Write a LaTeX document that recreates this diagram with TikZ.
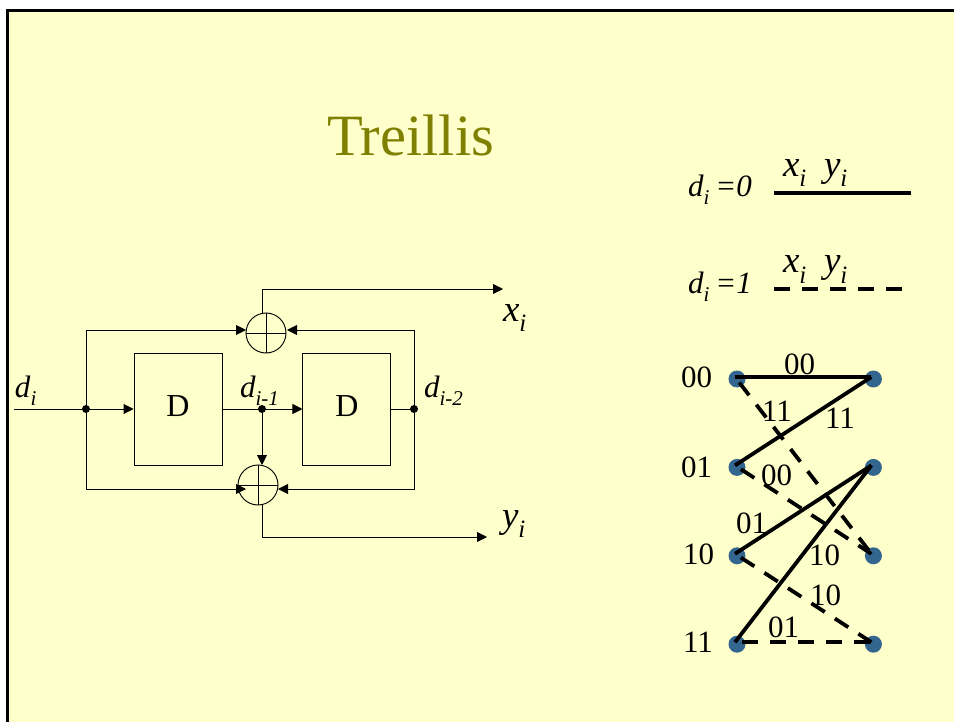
\documentclass[tikz,border=0pt]{standalone}
\usepackage{fontspec}
\setmainfont{Liberation Serif}
\usepackage{xcolor}
\usetikzlibrary{arrows.meta,positioning}
\definecolor{slidebg}{HTML}{FFFFCC}
\definecolor{titleolive}{HTML}{808000}
\definecolor{stateblue}{HTML}{33668F}
\newcommand{\subvar}[2]{\textit{#1}\raisebox{-8pt}{\fontsize{21}{23}\selectfont\textit{#2}}}
\newcommand{\bigsubvar}[2]{\textit{#1}\raisebox{-10pt}{\fontsize{25}{27}\selectfont\textit{#2}}}

\begin{document}
\begin{tikzpicture}[
  x=1pt, y=-1pt,
  delay/.style={draw, line width=0.95pt, minimum width=88pt, minimum height=112pt, inner sep=0pt, font=\fontsize{32}{34}\selectfont},
  adder/.style={draw, circle, line width=0.95pt, minimum size=40pt, inner sep=0pt},
  junction/.style={circle, fill=black, minimum size=8pt, inner sep=0pt},
  arrow/.style={-{Triangle[length=10pt,width=10pt]}, line width=0.95pt},
  wire/.style={line width=0.95pt},
  statedot/.style={circle, fill=stateblue, minimum size=17pt, inner sep=0pt},
  solidedge/.style={line width=3.8pt},
  dashedge/.style={line width=3.8pt, dash pattern=on 16pt off 12pt},
  dashlink/.style={dashedge, dash phase=21pt},
  tap/.style={xshift=-2pt, yshift=2pt},
  txt/.style={anchor=base west, inner sep=0pt, outer sep=0pt, font=\fontsize{31}{33}\selectfont},
  bigtxt/.style={txt, font=\fontsize{37}{39}\selectfont},
  edgetxt/.style={txt, font=\fontsize{31}{33}\selectfont}
]
\useasboundingbox (0,0) rectangle (954,722);
\fill[slidebg] (7.5,10.5) rectangle (954,722);
\coordinate (frameA) at (7.5,722);
\coordinate (frameB) at (7.5,10.5);
\coordinate (frameC) at (954,10.5);
\draw[line width=3pt, black] (frameA) -- (frameB) -- (frameC);
\node[anchor=base west, inner sep=0pt, font=\fontsize{58.5}{60}\selectfont, text=titleolive] (title) at (327,156) {Treillis};

\node[delay] (dleft) at (178,409) {\raisebox{6pt}{D}};
\node[delay, right=80pt of dleft] (dright) {\raisebox{6pt}{D}};
\node[adder] (sumtop) at (266,333) {};
\node[adder] (sumbot) at (258,485) {};
\node[junction] (jin) at (86,409) {};
\node[junction] (jmid) at (262,409) {};
\node[junction] (jout) at (414,409) {};
\coordinate (input) at (14,409);
\coordinate (topin) at (246,330);
\coordinate (topback) at (287,330);
\coordinate (botin) at (246,489);
\coordinate (botback) at (278,489);
\coordinate (midin) at (262,465);
\coordinate (xend) at (503,289);
\coordinate (yend) at (487,537);
\draw[wire] (sumtop.north) -- (sumtop.south);
\draw[wire] (sumtop.west) -- (sumtop.east);
\draw[wire] (sumbot.north) -- (sumbot.south);
\draw[wire] (sumbot.west) -- (sumbot.east);
\draw[wire] (input) -- (jin);
\draw[arrow] (jin) -- (dleft);
\draw[wire] (dleft) -- (jmid);
\draw[arrow] (jmid) -- (dright);
\draw[wire] (dright) -- (jout);
\draw[arrow] (jmid) -- (midin);
\draw[arrow] (jin) |- (topin);
\draw[arrow] (jin) |- (botin);
\draw[arrow] (jout) |- (topback);
\draw[arrow] (jout) |- (botback);
\draw[arrow] (sumtop.north -| jmid) |- (xend);
\draw[arrow] (sumbot.south -| jmid) |- (yend);
\node[txt] (ldi) at (15,397) {\subvar{d}{i}};
\node[txt] (ldone) at (240,397) {\subvar{d}{i-1}};
\node[txt] (ldtwo) at (424,397) {\subvar{d}{i-2}};
\node[bigtxt] (lxi) at (503,322) {\bigsubvar{x}{i}};
\node[bigtxt] (lyi) at (502,527) {\bigsubvar{y}{i}};

\node[txt] (legzero) at (688,197) {\subvar{d}{i}\hspace{6pt}\textit{=0}};
\node[txt] (legone) at (688,294) {\subvar{d}{i}\hspace{6pt}\textit{=1}};
\node[bigtxt] (xzero) at (783,177) {\bigsubvar{x}{i}};
\node[bigtxt] (yzero) at (824,177) {\bigsubvar{y}{i}};
\node[bigtxt] (xone) at (783,273) {\bigsubvar{x}{i}};
\node[bigtxt] (yone) at (824,273) {\bigsubvar{y}{i}};
\coordinate (solidA) at (774,193);
\coordinate (solidB) at (911,193);
\coordinate (dashA) at (774,289);
\coordinate (dashB) at (903,289);
\draw[solidedge] (solidA) -- (solidB);
\draw[dashedge] (dashA) -- (dashB);

\node[statedot] (la) at (737,379) {};
\node[statedot, below=71pt of la] (lb) {};
\node[statedot, below=71pt of lb] (lc) {};
\node[statedot, below=71pt of lc] (ld) {};
\node[statedot, right=119pt of la] (ra) {};
\node[statedot, right=119pt of lb] (rb) {};
\node[statedot, right=119pt of lc] (rc) {};
\node[statedot, right=119pt of ld] (rd) {};
\draw[solidedge] ([tap]la.center) -- ([tap]ra.center);
\draw[dashlink] ([tap]la.center) -- ([tap]rc.center);
\draw[solidedge] ([tap]lb.center) -- ([tap]ra.center);
\draw[dashlink] ([tap]lb.center) -- ([tap]rc.center);
\draw[solidedge] ([tap]lc.center) -- ([tap]rb.center);
\draw[dashlink] ([tap]lc.center) -- ([tap]rd.center);
\draw[solidedge] ([tap]ld.center) -- ([tap]rb.center);
\draw[dashlink] ([tap]ld.center) -- ([tap]rd.center);
\node[edgetxt] (sa) at (681,388) {00};
\node[edgetxt] (sb) at (681,477) {01};
\node[edgetxt] (sc) at (683,564) {10};
\node[edgetxt] (sd) at (683,652) {11};
\node[edgetxt] (ea) at (784,374) {00};
\node[edgetxt] (eb) at (762,421) {11};
\node[edgetxt] (ec) at (825,428) {11};
\node[edgetxt] (ed) at (761,485) {00};
\node[edgetxt] (ee) at (736,533) {01};
\node[edgetxt] (ef) at (809,565) {10};
\node[edgetxt] (eg) at (810,605) {10};
\node[edgetxt] (eh) at (768,637) {01};
\end{tikzpicture}
\end{document}
